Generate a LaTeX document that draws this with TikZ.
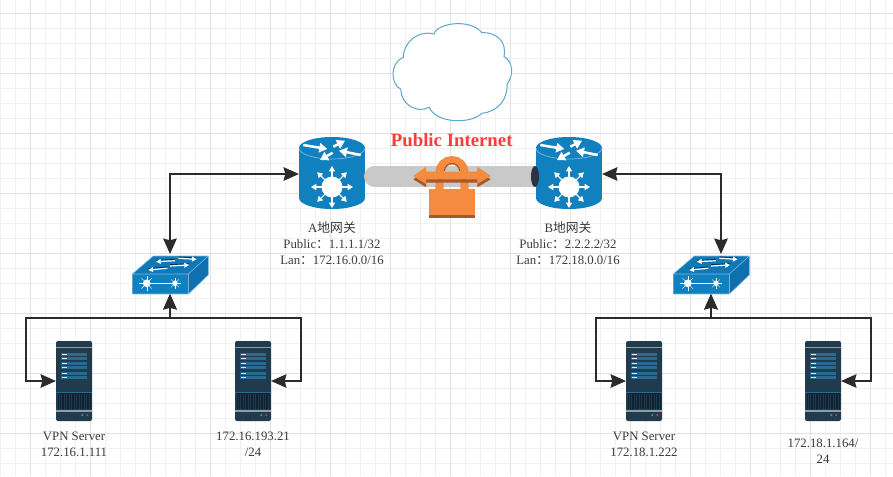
\documentclass[tikz,border=0pt]{standalone}
\usepackage{fontspec}
\setmainfont{Liberation Serif}
\newfontfamily\cjk{Noto Sans CJK SC}
\usepackage{tikz}
\usetikzlibrary{arrows.meta,calc}
\definecolor{gridminor}{HTML}{F1F1F1}
\definecolor{gridmajor}{HTML}{E2E2E2}
\definecolor{netblue}{HTML}{1180BF}
\definecolor{netrim}{HTML}{7DBBE0}
\definecolor{nettop}{HTML}{0F78B6}
\definecolor{netside}{HTML}{0E70AE}
\definecolor{srvdark}{HTML}{1F3B4D}
\definecolor{srvpanel}{HTML}{2A6A90}
\definecolor{srvvent}{HTML}{0F2231}
\definecolor{srvstrip}{HTML}{8C9EA8}
\definecolor{srvgreen}{HTML}{2A9D6A}
\definecolor{srvred}{HTML}{C0305A}
\definecolor{lockorange}{HTML}{F58B3F}
\definecolor{lockdark}{HTML}{A9582C}
\definecolor{pipegray}{HTML}{C9C9C9}
\definecolor{pipedark}{HTML}{2E3344}
\definecolor{cloudblue}{HTML}{5FA6CC}
\definecolor{inkgray}{HTML}{3A3A3A}
\definecolor{linkgray}{HTML}{2B2B2B}
\definecolor{titlered}{HTML}{FF3B3B}
\tikzset{
	link/.style={line width=1.7pt,color=linkgray,{Stealth[length=11.5pt,width=10pt,inset=1.2pt]}-{Stealth[length=11.5pt,width=10pt,inset=1.2pt]}},
	iconbox/.style={inner sep=0pt,outer sep=0pt,minimum width=#1},
	caption/.style={align=center,text=inkgray,font=\fontsize{9.6}{12}\selectfont},
	pics/router/.style={code={
		\node [iconbox=49.5pt,minimum height=54pt] (-body) at (0,1) {};
		\fill [netblue] (-33,-25) rectangle (33,25);
		\fill [netblue] (0,-25) ellipse [x radius=33,y radius=11];
		\fill [netblue] (0,25) ellipse [x radius=33,y radius=11];
		\draw [netrim,line width=.5pt] (-33,-25) arc [start angle=180,end angle=0,x radius=33,y radius=11];
		\foreach \xa/\ya/\xb/\yb in {-28.7/-28/-4.7/-24,1.3/-26.3/13/-32.3,0.7/-20.3/-12/-13,28.7/-18/7/-22.3}
			\draw [white,line width=1.9pt,-{Stealth[length=6pt,width=7pt,inset=0pt]}] (\xa,\ya) -- (\xb,\yb);
		\foreach \a in {0,45,...,315}
			\draw [white,line width=.8pt,-{Stealth[length=4pt,width=4.5pt,inset=0pt]}] (0,14) -- ++(\a:21);
		\fill [white] (0,14) circle [radius=10.5];
	}},
	pics/switch/.style={code={
		\node [iconbox=57pt,minimum height=30pt] (-body) at (0,-1) {};
		\fill [nettop] (-37.7,-1) -- (-16.7,-19) -- (38.3,-19) -- (18.3,-1) -- cycle;
		\fill [netside] (18.3,-1) -- (38.3,-19) -- (38.3,0) -- (18.3,19) -- cycle;
		\fill [netblue] (-37.7,-1) rectangle (18.3,19);
		\draw [netrim,line width=.4pt,line join=round] (-37.7,-1) -- (-16.7,-19) -- (38.3,-19) -- (18.3,-1) -- cycle (-37.7,-1) rectangle (18.3,19) (38.3,-19) -- (38.3,0) -- (18.3,19);
		\foreach \xa/\ya/\xb/\yb in {5/-14.3/-14/-13.3,8.3/-16.7/26.7/-15.7,-2.7/-6.7/-21.7/-5,0/-9/19/-10} {
			\draw [srvvent,line width=.5pt] (\xa,\ya-1.4) -- (\xb,\yb-1.4);
			\draw [white,line width=.9pt,-{Stealth[length=3.5pt,width=3.5pt,inset=0pt]}] (\xa,\ya) -- (\xb,\yb);
		}
		\draw [white,line width=.8pt] (-23.3,8.3) -- (5,8.3);
		\foreach \x/\r/\l in {-23.3/3.8/7.5,5/2.7/5.5} {
			\fill [white] (\x,8.3) circle [radius=\r];
			\foreach \a in {0,45,...,315}
				\draw [white,line width=.3pt] (\x,8.3) -- ++(\a:\l);
		}
	}},
	pics/server/.style={code={
		\node [iconbox=27pt,minimum height=60pt] (-body) at (0,0) {};
		\fill [srvdark,rounded corners=1.5pt] (-18,-40) rectangle (18,40);
		\fill [srvstrip] (-18,-34) rectangle (18,-32.7);
		\fill [srvstrip] (-18,29.3) rectangle (18,31);
		\foreach \y in {-28.3,-19.3,-9.3} {
			\fill [srvpanel] (-13,\y) rectangle (13,\y+7.6);
			\draw [srvdark,line width=.3pt] (-13,\y+3.8) -- (13,\y+3.8);
			\fill [white!85!srvpanel] (-12,\y+1.2) rectangle (-7,\y+2.6);
			\fill [white!85!srvpanel] (-12,\y+5) rectangle (-7,\y+6.4);
		}
		\fill [srvvent] (-16.5,11.3) rectangle (16.5,28.3);
		\draw [srvpanel,line width=.4pt] (-18,11.3) -- (18,11.3);
		\foreach \x in {-15,-12.5,...,15}
			\draw [srvdark,line width=.4pt] (\x,12.5) -- (\x,28);
		\fill [srvgreen] (8.3,34) circle [radius=1.3];
		\fill [srvred] (13.3,34) circle [radius=1.3];
	}}
}
\begin{document}
\begin{tikzpicture}[x=0.75pt,y=-0.75pt]
	\useasboundingbox (0,0) rectangle (893,476);
	\fill [white] (0,0) rectangle (893,476);
	\foreach \k in {0,...,59}
		\draw [gridminor,line width=.75pt] ({0.67+15*\k},0) -- ({0.67+15*\k},476);
	\foreach \k in {0,...,31}
		\draw [gridminor,line width=.75pt] (0,{13.3+15*\k-15}) -- (893,{13.3+15*\k-15});
	\foreach \k in {0,...,14}
		\draw [gridmajor,line width=.75pt] ({30.67+60*\k},0) -- ({30.67+60*\k},476);
	\foreach \k in {0,...,7}
		\draw [gridmajor,line width=.75pt] (0,{13.3+60*\k}) -- (893,{13.3+60*\k});

	\draw [cloudblue,fill=white,line width=.75pt] (434,34) .. controls (438,22) and (472,19) .. (481.7,32.7) .. controls (497,32) and (507,42) .. (504,56.7) .. controls (513,61) and (514,76) .. (507,84) .. controls (508,100) and (497,112) .. (481.7,113.3) .. controls (472,124) and (436,124) .. (429.3,107.3) .. controls (416,114) and (401,104) .. (400.7,89) .. controls (392,86) and (388,64) .. (403.3,57.3) .. controls (404,40) and (420,30) .. (434,34) -- cycle;

	\pic (gwA) at (332,173) {router};
	\coordinate (pipeA) at (374.5,176.5);
	\coordinate (pipeB) at (545,176.5);
	\draw [pipegray,line width=15.75pt,line cap=round] (pipeA) -- (pipeB);
	\pic (gwB) at (569,173) {router};
	\fill [pipedark] (535,176.5) ellipse [x radius=4,y radius=10.5];

	\draw [lockorange,line width=6.25pt] (439.5,190) -- (439.5,172.7) arc [start angle=180,end angle=360,radius=12.5] -- (464.5,190);
	\draw [lockdark,line width=.9pt] (444.5,171) arc [start angle=180,end angle=360,radius=7.5];
	\foreach \c/\s in {lockdark/3.3,lockorange/0} {
		\begin{scope}[shift={(0,\s)}]
			\fill [\c] (413.3,176) -- (426,166.7) -- (426,171.7) -- (477.3,171.7) -- (477.3,166.7) -- (490.7,176) -- (477.3,184) -- (477.3,179.3) -- (426,179.3) -- (426,184) -- cycle;
		\end{scope}
	}
	\fill [lockdark] (428.7,189) rectangle (475,217.7);
	\fill [lockorange] (428.7,189) rectangle (475,215);

	\node [text=titlered,font=\fontsize{14.1}{16}\selectfont\bfseries] (title) at (451.7,140) {Public Internet};

	\node [caption] (capA) at (332,243) {A{\cjk 地网关}\\Public{\cjk ：}1.1.1.1/32\\Lan{\cjk ：}172.16.0.0/16};
	\node [caption] (capB) at (568,243) {B{\cjk 地网关}\\Public{\cjk ：}2.2.2.2/32\\Lan{\cjk ：}172.18.0.0/16};

	\pic (swA) at (170,275) {switch};
	\pic (swB) at (711,275) {switch};

	\pic (srvA) at (74,381) {server};
	\pic (srvB) at (253,381) {server};
	\pic (srvC) at (644,381) {server};
	\pic (srvD) at (823,381) {server};

	\node [caption] (capSrvA) at (74,444) {VPN Server\\172.16.1.111};
	\node [caption] (capSrvB) at (253,444) {172.16.193.21\\/24};
	\node [caption] (capSrvC) at (644,444) {VPN Server\\172.18.1.222};
	\node [caption] (capSrvD) at (823,451.5) {172.18.1.164/\\24};

	\coordinate (elbowA) at (26,318);
	\coordinate (elbowB) at (301,318);
	\coordinate (elbowC) at (596,318);
	\coordinate (elbowD) at (871,318);
	\coordinate (turnB) at (721,174);
	\coordinate (dropB) at (721,254);

	\draw [link] (gwA-body.west) -| (swA-body.north);
	\draw [link] (gwB-body.east) -- (turnB) -- (dropB);
	\draw [link] (swA-body.south) |- (elbowA) |- (srvA-body.west);
	\draw [link] (swA-body.south) |- (elbowB) |- (srvB-body.east);
	\draw [link] (swB-body.south) |- (elbowC) |- (srvC-body.west);
	\draw [link] (swB-body.south) |- (elbowD) |- (srvD-body.east);
\end{tikzpicture}
\end{document}
